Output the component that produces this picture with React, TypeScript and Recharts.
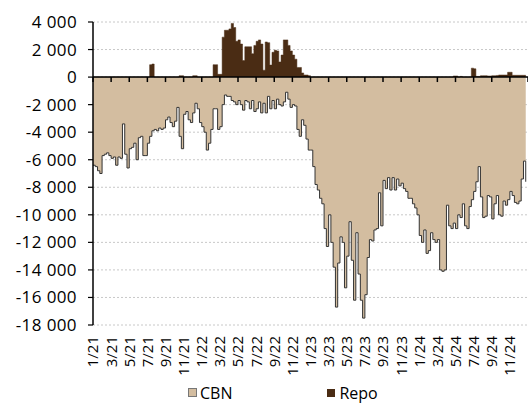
import { ComposedChart, Area, XAxis, YAxis, CartesianGrid, ReferenceLine, Legend } from 'recharts'

const FONT = '"Open Sans", "Noto Sans", sans-serif'

// x-axis labels, every second month from 1/21
const monthLabels = [
    '1/21', '3/21', '5/21', '7/21', '9/21', '11/21',
    '1/22', '3/22', '5/22', '7/22', '9/22', '11/22',
    '1/23', '3/23', '5/23', '7/23', '9/23', '11/23',
    '1/24', '3/24', '5/24', '7/24', '9/24', '11/24',
]

const yTicks = [4000, 2000, 0, -2000, -4000, -6000, -8000, -10000, -12000, -14000, -16000, -18000]

// weekly values (4 per month)
const cbn2021 = [
    -6400, -6500, -6800, -7000, -5700, -5600, -5500, -5700, -5900, -5800, -6400, -5800,
    -5900, -3400, -5600, -6600, -5200, -5100, -4800, -6000, -4400, -4300, -5700, -5700,
    -4800, -4300, -3900, -3800, -3900, -3700, -3800, -3700, -3100, -2900, -3300, -3600,
    -3200, -2200, -4300, -5200, -2700, -2500, -3100, -3300, -2600, -1900, -2300, -3300,
]
const cbn2022 = [
    -3600, -4000, -5300, -4800, -3800, -2300, -2300, -3800, -3600, -2000, -1300, -1400,
    -1400, -1700, -1800, -2000, -1700, -2000, -2400, -1700, -1800, -2300, -1700, -2500,
    -2300, -1800, -2600, -1900, -2600, -1400, -2300, -1700, -2300, -1600, -2000, -2100,
    -1800, -1100, -1600, -2200, -2000, -2100, -3800, -4300, -3100, -3500, -4500, -5300,
]
const cbn2023 = [
    -5300, -6500, -7800, -8200, -8800, -9200, -11000, -12300, -10000, -12000, -13800, -16700,
    -13500, -11600, -12000, -15300, -13000, -10500, -13300, -16200, -11300, -14300, -16200, -17500,
    -15800, -13100, -11800, -11900, -11100, -11000, -8400, -10800, -7500, -8100, -7300, -8200,
    -7300, -8200, -7400, -7900, -7700, -8100, -8300, -8800, -8800, -9200, -9500, -10000,
]
const cbn2024 = [
    -11500, -12000, -11100, -12800, -12600, -11300, -11800, -12000, -11800, -14000, -14100, -14000,
    -9300, -10800, -11000, -10600, -11000, -10000, -10200, -9200, -10800, -11000, -9400, -8900,
    -8300, -7600, -6500, -8700, -10200, -10100, -8600, -8700, -10300, -9200, -8600, -10000,
    -10100, -9000, -9300, -8900, -8300, -8600, -9100, -9200, -9000, -7400, -6100, -7600,
]

const repo2021 = [
    0, 0, 0, 0, 0, 0, 0, 0, 0, 0, 0, 0,
    0, 0, 0, 0, 0, 0, 0, 0, 0, 0, 0, 0,
    0, 900, 950, 0, 0, 0, 0, 0, 0, 0, 0, 0,
    0, 0, 100, 100, 0, 0, 0, 0, 100, 100, 0, 0,
]
const repo2022 = [
    0, 0, 0, 0, 0, 900, 900, 200, 200, 2900, 3400, 3400,
    3500, 3900, 3600, 2600, 2700, 2400, 1200, 2200, 2200, 2200, 1700, 2300,
    2600, 2700, 2400, 500, 2550, 2500, 870, 1800, 1950, 1900, 1100, 1600,
    2700, 2700, 2300, 1900, 1600, 1300, 700, 700, 300, 150, 150, 100,
]
const repo2023 = [
    0, 0, 0, 0, 0, 0, 0, 0, 0, 0, 0, 0,
    0, 0, 0, 0, 0, 0, 0, 0, 0, 0, 0, 0,
    0, 0, 0, 0, 0, 0, 0, 0, 0, 0, 0, 0,
    0, 0, 0, 0, 0, 0, 0, 0, 0, 0, 0, 0,
]
const repo2024 = [
    0, 0, 0, 0, 0, 0, 0, 0, 0, 0, 0, 0,
    0, 0, 0, 80, 80, 0, 50, 0, 0, 0, 0, 650,
    600, 50, 50, 100, 100, 100, 80, 80, 100, 100, 120, 150,
    150, 150, 150, 350, 350, 130, 130, 130, 130, 130, 130, 100,
]

const cbn = [...cbn2021, ...cbn2022, ...cbn2023, ...cbn2024]
const repo = [...repo2021, ...repo2022, ...repo2023, ...repo2024]
const data = cbn.map((v, i) => ({ t: i, cbn: v, repo: repo[i] }))

const xTicks = monthLabels.map((_, i) => i * 8)
const axisEnd = cbn.length

function fmtY(v: number) {
    if (v === 0) return '0'
    return `${v < 0 ? '-' : ''}${Math.abs(v) / 1000} 000`
}

function MonthTick(props: any) {
    const { x, y, payload } = props
    const label = monthLabels[payload.value / 8]
    return (
        <text
            x={x}
            y={y}
            transform={`rotate(-90 ${x} ${y})`}
            textAnchor="end"
            dy="0.36em"
            fontSize={15}
            fontFamily={FONT}
            fill="#000"
        >
            {label}
        </text>
    )
}

function renderLegend() {
    return (
        <div style={{ display: 'flex', alignItems: 'flex-end', height: 24, paddingLeft: 188, fontFamily: FONT, fontSize: 16, lineHeight: '20px', color: '#000' }}>
            <span style={{ width: 7, height: 7, background: '#D3BDA0', border: '1px solid #777', marginRight: 3, marginBottom: 6 }} />
            <span style={{ marginRight: 95 }}>CBN</span>
            <span style={{ width: 8, height: 8, background: '#4A2C14', marginRight: 4, marginBottom: 6 }} />
            <span>Repo</span>
        </div>
    )
}

export default function App() {
    return (
        <div style={{ position: 'absolute', left: 0, top: 0, width: 528, height: 403, background: '#fff' }}>
            <ComposedChart width={528} height={403} data={data} margin={{ top: 22, right: 0, bottom: 0, left: 0 }}>
                <CartesianGrid vertical={false} stroke="#c8c8c8" strokeDasharray="2 2" />
                <XAxis
                    type="number"
                    dataKey="t"
                    domain={[0, axisEnd]}
                    ticks={xTicks}
                    interval={0}
                    tick={<MonthTick />}
                    tickSize={0}
                    tickMargin={11}
                    axisLine={false}
                    height={54}
                />
                <YAxis
                    width={93}
                    domain={[-18000, 4000]}
                    ticks={yTicks}
                    interval={0}
                    tickFormatter={fmtY}
                    axisLine={{ stroke: '#000', strokeWidth: 1.5 }}
                    tickLine={{ stroke: '#000', strokeWidth: 1.2 }}
                    tickSize={5}
                    tickMargin={11}
                    tick={{ fill: '#000', fontSize: 17, fontFamily: FONT, letterSpacing: 0.4 }}
                />
                <Area
                    type="stepAfter"
                    dataKey="cbn"
                    name="CBN"
                    fill="#D3BDA0"
                    fillOpacity={1}
                    stroke="#333"
                    strokeWidth={1}
                    dot={false}
                    activeDot={false}
                    isAnimationActive={false}
                />
                <Area
                    type="stepAfter"
                    dataKey="repo"
                    name="Repo"
                    fill="#4A2C14"
                    fillOpacity={1}
                    stroke="#4A2C14"
                    strokeWidth={0.5}
                    dot={false}
                    activeDot={false}
                    isAnimationActive={false}
                />
                <ReferenceLine y={0} stroke="#000" strokeWidth={1.5} />
                {[...xTicks, axisEnd].map((t) => (
                    <ReferenceLine
                        key={t}
                        segment={[{ x: t, y: 0 }, { x: t, y: -360 }]}
                        stroke="#000"
                        strokeWidth={1.5}
                    />
                ))}
                <Legend verticalAlign="bottom" content={renderLegend} />
            </ComposedChart>
        </div>
    )
}
